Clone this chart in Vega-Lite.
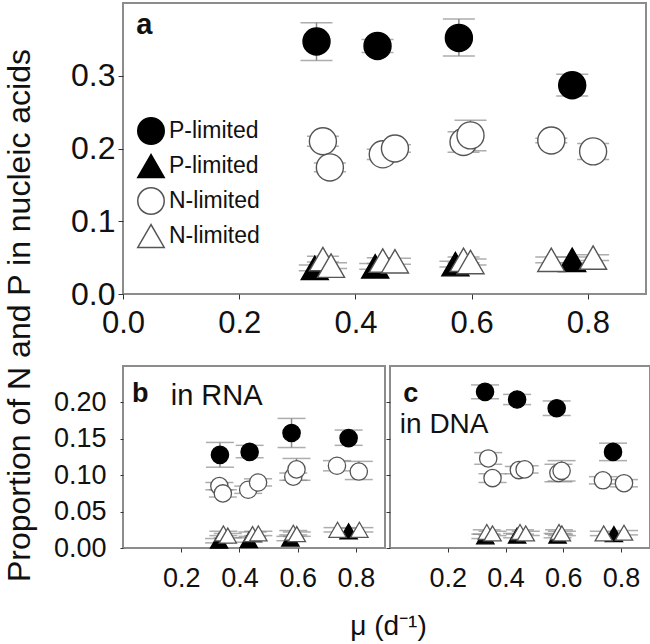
{
  "$schema": "https://vega.github.io/schema/vega-lite/v6.json",
  "padding": {"left": 1, "top": 2, "right": 3, "bottom": 2},
  "config": {
    "font": "Liberation Sans",
    "view": {"stroke": "#8c8c8c", "strokeWidth": 2},
    "axis": {"grid": false, "domain": false, "tickColor": "#333", "labelColor": "#111", "labelFont": "Liberation Sans", "titleFont": "Liberation Sans", "titleColor": "#111", "labelFlush": false, "labelOverlap": false}
  },
  "datasets": {
    "a": [
      {"s": "P-limited N", "mu": 0.333, "v": 0.347, "lo": 0.321, "hi": 0.373},
      {"s": "P-limited N", "mu": 0.438, "v": 0.341, "lo": 0.332, "hi": 0.350},
      {"s": "P-limited N", "mu": 0.578, "v": 0.352, "lo": 0.327, "hi": 0.378},
      {"s": "P-limited N", "mu": 0.773, "v": 0.287, "lo": 0.272, "hi": 0.302},
      {"s": "N-limited N", "mu": 0.344, "v": 0.210, "lo": 0.203, "hi": 0.217},
      {"s": "N-limited N", "mu": 0.356, "v": 0.174, "lo": 0.168, "hi": 0.180},
      {"s": "N-limited N", "mu": 0.447, "v": 0.192, "lo": 0.185, "hi": 0.199},
      {"s": "N-limited N", "mu": 0.468, "v": 0.200, "lo": 0.195, "hi": 0.205},
      {"s": "N-limited N", "mu": 0.586, "v": 0.209, "lo": 0.195, "hi": 0.223},
      {"s": "N-limited N", "mu": 0.598, "v": 0.218, "lo": 0.197, "hi": 0.239},
      {"s": "N-limited N", "mu": 0.737, "v": 0.211, "lo": 0.208, "hi": 0.214},
      {"s": "N-limited N", "mu": 0.809, "v": 0.196, "lo": 0.185, "hi": 0.207},
      {"s": "P-limited P", "mu": 0.330, "v": 0.036, "lo": 0.032, "hi": 0.040},
      {"s": "P-limited P", "mu": 0.434, "v": 0.038, "lo": 0.034, "hi": 0.042},
      {"s": "P-limited P", "mu": 0.572, "v": 0.041, "lo": 0.037, "hi": 0.045},
      {"s": "P-limited P", "mu": 0.773, "v": 0.047, "lo": 0.043, "hi": 0.051},
      {"s": "N-limited P", "mu": 0.344, "v": 0.048, "lo": 0.044, "hi": 0.052},
      {"s": "N-limited P", "mu": 0.358, "v": 0.039, "lo": 0.035, "hi": 0.043},
      {"s": "N-limited P", "mu": 0.447, "v": 0.046, "lo": 0.042, "hi": 0.050},
      {"s": "N-limited P", "mu": 0.468, "v": 0.045, "lo": 0.041, "hi": 0.049},
      {"s": "N-limited P", "mu": 0.586, "v": 0.047, "lo": 0.043, "hi": 0.051},
      {"s": "N-limited P", "mu": 0.598, "v": 0.044, "lo": 0.040, "hi": 0.048},
      {"s": "N-limited P", "mu": 0.737, "v": 0.047, "lo": 0.043, "hi": 0.051},
      {"s": "N-limited P", "mu": 0.809, "v": 0.050, "lo": 0.046, "hi": 0.054}
    ],
    "b": [
      {"s": "P-limited N", "mu": 0.333, "v": 0.128, "lo": 0.111, "hi": 0.145},
      {"s": "P-limited N", "mu": 0.435, "v": 0.132, "lo": 0.124, "hi": 0.141},
      {"s": "P-limited N", "mu": 0.579, "v": 0.158, "lo": 0.138, "hi": 0.178},
      {"s": "P-limited N", "mu": 0.775, "v": 0.151, "lo": 0.141, "hi": 0.162},
      {"s": "N-limited N", "mu": 0.331, "v": 0.085, "lo": 0.080, "hi": 0.090},
      {"s": "N-limited N", "mu": 0.343, "v": 0.075, "lo": 0.070, "hi": 0.080},
      {"s": "N-limited N", "mu": 0.430, "v": 0.080, "lo": 0.075, "hi": 0.085},
      {"s": "N-limited N", "mu": 0.464, "v": 0.090, "lo": 0.085, "hi": 0.095},
      {"s": "N-limited N", "mu": 0.585, "v": 0.098, "lo": 0.093, "hi": 0.103},
      {"s": "N-limited N", "mu": 0.596, "v": 0.108, "lo": 0.093, "hi": 0.123},
      {"s": "N-limited N", "mu": 0.735, "v": 0.113, "lo": 0.106, "hi": 0.120},
      {"s": "N-limited N", "mu": 0.810, "v": 0.105, "lo": 0.094, "hi": 0.119},
      {"s": "P-limited P", "mu": 0.330, "v": 0.010, "lo": 0.007, "hi": 0.013},
      {"s": "P-limited P", "mu": 0.432, "v": 0.011, "lo": 0.008, "hi": 0.014},
      {"s": "P-limited P", "mu": 0.575, "v": 0.013, "lo": 0.010, "hi": 0.016},
      {"s": "P-limited P", "mu": 0.775, "v": 0.023, "lo": 0.019, "hi": 0.027},
      {"s": "N-limited P", "mu": 0.345, "v": 0.020, "lo": 0.017, "hi": 0.023},
      {"s": "N-limited P", "mu": 0.360, "v": 0.017, "lo": 0.014, "hi": 0.020},
      {"s": "N-limited P", "mu": 0.445, "v": 0.019, "lo": 0.016, "hi": 0.022},
      {"s": "N-limited P", "mu": 0.465, "v": 0.020, "lo": 0.017, "hi": 0.023},
      {"s": "N-limited P", "mu": 0.585, "v": 0.021, "lo": 0.018, "hi": 0.024},
      {"s": "N-limited P", "mu": 0.597, "v": 0.019, "lo": 0.016, "hi": 0.022},
      {"s": "N-limited P", "mu": 0.737, "v": 0.025, "lo": 0.022, "hi": 0.028},
      {"s": "N-limited P", "mu": 0.812, "v": 0.025, "lo": 0.022, "hi": 0.028}
    ],
    "c": [
      {"s": "P-limited N", "mu": 0.329, "v": 0.2145, "lo": 0.205, "hi": 0.224},
      {"s": "P-limited N", "mu": 0.440, "v": 0.204, "lo": 0.197, "hi": 0.211},
      {"s": "P-limited N", "mu": 0.577, "v": 0.192, "lo": 0.182, "hi": 0.202},
      {"s": "P-limited N", "mu": 0.772, "v": 0.132, "lo": 0.120, "hi": 0.144},
      {"s": "N-limited N", "mu": 0.340, "v": 0.123, "lo": 0.115, "hi": 0.131},
      {"s": "N-limited N", "mu": 0.355, "v": 0.096, "lo": 0.090, "hi": 0.102},
      {"s": "N-limited N", "mu": 0.446, "v": 0.107, "lo": 0.102, "hi": 0.112},
      {"s": "N-limited N", "mu": 0.466, "v": 0.108, "lo": 0.103, "hi": 0.113},
      {"s": "N-limited N", "mu": 0.583, "v": 0.103, "lo": 0.091, "hi": 0.115},
      {"s": "N-limited N", "mu": 0.594, "v": 0.106, "lo": 0.092, "hi": 0.120},
      {"s": "N-limited N", "mu": 0.737, "v": 0.093, "lo": 0.088, "hi": 0.098},
      {"s": "N-limited N", "mu": 0.810, "v": 0.089, "lo": 0.084, "hi": 0.094},
      {"s": "P-limited P", "mu": 0.330, "v": 0.016, "lo": 0.013, "hi": 0.019},
      {"s": "P-limited P", "mu": 0.440, "v": 0.017, "lo": 0.014, "hi": 0.020},
      {"s": "P-limited P", "mu": 0.580, "v": 0.017, "lo": 0.014, "hi": 0.020},
      {"s": "P-limited P", "mu": 0.775, "v": 0.019, "lo": 0.016, "hi": 0.022},
      {"s": "N-limited P", "mu": 0.335, "v": 0.022, "lo": 0.019, "hi": 0.025},
      {"s": "N-limited P", "mu": 0.355, "v": 0.020, "lo": 0.017, "hi": 0.023},
      {"s": "N-limited P", "mu": 0.450, "v": 0.022, "lo": 0.019, "hi": 0.025},
      {"s": "N-limited P", "mu": 0.470, "v": 0.020, "lo": 0.017, "hi": 0.023},
      {"s": "N-limited P", "mu": 0.585, "v": 0.022, "lo": 0.019, "hi": 0.025},
      {"s": "N-limited P", "mu": 0.595, "v": 0.020, "lo": 0.017, "hi": 0.023},
      {"s": "N-limited P", "mu": 0.740, "v": 0.020, "lo": 0.017, "hi": 0.023},
      {"s": "N-limited P", "mu": 0.810, "v": 0.021, "lo": 0.018, "hi": 0.024}
    ]
  },
  "bounds": "flush",
  "spacing": 72,
  "resolve": {
    "scale": {"shape": "independent", "fill": "independent", "stroke": "independent"},
    "legend": {"shape": "independent", "fill": "independent", "stroke": "independent"}
  },
  "vconcat": [
    {
      "width": 523,
      "height": 291,
      "data": {"name": "a"},
      "layer": [
        {
          "mark": {"type": "errorbar", "ticks": {"size": 32, "color": "#8a8a8a", "thickness": 1.5}, "rule": {"color": "#8a8a8a", "strokeWidth": 1.5}},
          "encoding": {
            "x": {"field": "mu", "type": "quantitative", "scale": {"domain": [0, 0.9], "nice": false, "zero": false},
                  "axis": {"values": [0, 0.2, 0.4, 0.6, 0.8], "format": ".1f", "title": null, "labelFontSize": 31, "tickSize": 5, "labelPadding": 9}},
            "y": {"field": "lo", "type": "quantitative", "scale": {"domain": [0, 0.4], "nice": false},
                  "axis": {"values": [0, 0.1, 0.2, 0.3], "format": ".1f", "title": "Proportion of N and P in nucleic acids", "titleFontSize": 32, "titleFontWeight": "normal", "titleX": -87, "titleY": 312, "titleAngle": 270, "titleAlign": "center", "titleBaseline": "bottom", "labelFontSize": 32, "tickSize": 5, "labelPadding": 3}},
            "y2": {"field": "hi"}
          }
        },
        {
          "mark": {"type": "point", "filled": false, "size": 730, "strokeWidth": 1.4, "opacity": 1, "fillOpacity": 1},
          "encoding": {
            "x": {"field": "mu", "type": "quantitative", "scale": {"domain": [0, 0.9], "nice": false, "zero": false},
                  "axis": {"values": [0, 0.2, 0.4, 0.6, 0.8], "format": ".1f", "title": null, "labelFontSize": 31, "tickSize": 5, "labelPadding": 9}},
            "y": {"field": "v", "type": "quantitative", "scale": {"domain": [0, 0.4], "nice": false},
                  "axis": {"values": [0, 0.1, 0.2, 0.3], "format": ".1f", "title": "Proportion of N and P in nucleic acids", "titleFontSize": 32, "titleFontWeight": "normal", "titleX": -87, "titleY": 312, "titleAngle": 270, "titleAlign": "center", "titleBaseline": "bottom", "labelFontSize": 32, "tickSize": 5, "labelPadding": 3}},
            "shape": {"field": "s", "type": "nominal", "scale": {"domain": ["P-limited N", "P-limited P", "N-limited N", "N-limited P"], "range": ["circle", "triangle-up", "circle", "triangle-up"]},
                      "legend": {"title": null, "orient": "none", "legendX": 14, "legendY": 114, "labelExpr": "slice(datum.label, 0, 9)", "symbolSize": 700, "labelFontSize": 23, "labelFont": "Liberation Sans", "rowPadding": 3, "labelOffset": 4, "padding": 0, "symbolStrokeWidth": 1.5, "labelColor": "#111"}},
            "fill": {"field": "s", "type": "nominal", "scale": {"domain": ["P-limited N", "P-limited P", "N-limited N", "N-limited P"], "range": ["#000000", "#000000", "#ffffff", "#ffffff"]},
                      "legend": {"title": null, "orient": "none", "legendX": 14, "legendY": 114, "labelExpr": "slice(datum.label, 0, 9)", "symbolSize": 700, "labelFontSize": 23, "labelFont": "Liberation Sans", "rowPadding": 3, "labelOffset": 4, "padding": 0, "symbolStrokeWidth": 1.5, "labelColor": "#111"}},
            "stroke": {"field": "s", "type": "nominal", "scale": {"domain": ["P-limited N", "P-limited P", "N-limited N", "N-limited P"], "range": ["#000000", "#000000", "#555555", "#555555"]},
                      "legend": {"title": null, "orient": "none", "legendX": 14, "legendY": 114, "labelExpr": "slice(datum.label, 0, 9)", "symbolSize": 700, "labelFontSize": 23, "labelFont": "Liberation Sans", "rowPadding": 3, "labelOffset": 4, "padding": 0, "symbolStrokeWidth": 1.5, "labelColor": "#111"}}
          }
        },
        {
          "data": {"values": [{"t": "a", "mu": 0.023, "v": 0.357}]},
          "mark": {"type": "text", "fontSize": 29, "fontWeight": "bold", "align": "left", "baseline": "alphabetic", "color": "#111"},
          "encoding": {
            "x": {"field": "mu", "type": "quantitative", "scale": {"domain": [0, 0.9], "nice": false, "zero": false}},
            "y": {"field": "v", "type": "quantitative", "scale": {"domain": [0, 0.4], "nice": false}},
            "text": {"field": "t"}
          }
        }
      ]
    },
    {
      "bounds": "flush",
      "spacing": 5,
      "hconcat": [
        {
          "width": 262,
          "height": 182,
          "data": {"name": "b"},
          "layer": [
            {
              "mark": {"type": "errorbar", "ticks": {"size": 28, "color": "#8a8a8a", "thickness": 1.5}, "rule": {"color": "#8a8a8a", "strokeWidth": 1.5}},
              "encoding": {
                "x": {"field": "mu", "type": "quantitative", "scale": {"domain": [0, 0.9], "nice": false, "zero": false},
                      "axis": {"values": [0.2, 0.4, 0.6, 0.8], "format": ".1f", "title": "μ (d⁻¹)", "titleFontSize": 28, "titleFontWeight": "normal", "titleX": 265, "titleY": 86, "titleAlign": "center", "titleBaseline": "alphabetic", "labelFontSize": 27, "tickSize": 4, "labelPadding": 13}},
                "y": {"field": "lo", "type": "quantitative", "scale": {"domain": [0, 0.25], "nice": false},
                      "axis": {"values": [0, 0.05, 0.1, 0.15, 0.2], "format": ".2f", "title": null, "labelFontSize": 27, "tickSize": 3, "labelPadding": 14}},
                "y2": {"field": "hi"}
              }
            },
            {
              "mark": {"type": "point", "filled": false, "size": 300, "strokeWidth": 1.3, "opacity": 1, "fillOpacity": 1},
              "encoding": {
                "x": {"field": "mu", "type": "quantitative", "scale": {"domain": [0, 0.9], "nice": false, "zero": false},
                      "axis": {"values": [0.2, 0.4, 0.6, 0.8], "format": ".1f", "title": "μ (d⁻¹)", "titleFontSize": 28, "titleFontWeight": "normal", "titleX": 265, "titleY": 86, "titleAlign": "center", "titleBaseline": "alphabetic", "labelFontSize": 27, "tickSize": 4, "labelPadding": 13}},
                "y": {"field": "v", "type": "quantitative", "scale": {"domain": [0, 0.25], "nice": false},
                      "axis": {"values": [0, 0.05, 0.1, 0.15, 0.2], "format": ".2f", "title": null, "labelFontSize": 27, "tickSize": 3, "labelPadding": 14}},
                "shape": {"field": "s", "type": "nominal", "scale": {"domain": ["P-limited N", "P-limited P", "N-limited N", "N-limited P"], "range": ["circle", "triangle-up", "circle", "triangle-up"]}, "legend": null},
                "fill": {"field": "s", "type": "nominal", "scale": {"domain": ["P-limited N", "P-limited P", "N-limited N", "N-limited P"], "range": ["#000000", "#000000", "#ffffff", "#ffffff"]}, "legend": null},
                "stroke": {"field": "s", "type": "nominal", "scale": {"domain": ["P-limited N", "P-limited P", "N-limited N", "N-limited P"], "range": ["#000000", "#000000", "#555555", "#555555"]}, "legend": null}
              }
            },
            {
              "data": {"values": [{"t": "b", "mu": 0.031, "v": 0.201}]},
              "mark": {"type": "text", "fontSize": 27, "fontWeight": "bold", "align": "left", "baseline": "alphabetic", "color": "#111"},
              "encoding": {
                "x": {"field": "mu", "type": "quantitative", "scale": {"domain": [0, 0.9], "nice": false, "zero": false}},
                "y": {"field": "v", "type": "quantitative", "scale": {"domain": [0, 0.25], "nice": false}},
                "text": {"field": "t"}
              }
            },
            {
              "data": {"values": [{"t": "in RNA", "mu": 0.164, "v": 0.197}]},
              "mark": {"type": "text", "fontSize": 29, "align": "left", "baseline": "alphabetic", "color": "#111"},
              "encoding": {
                "x": {"field": "mu", "type": "quantitative", "scale": {"domain": [0, 0.9], "nice": false, "zero": false}},
                "y": {"field": "v", "type": "quantitative", "scale": {"domain": [0, 0.25], "nice": false}},
                "text": {"field": "t"}
              }
            }
          ]
        },
        {
          "width": 260,
          "height": 182,
          "data": {"name": "c"},
          "layer": [
            {
              "mark": {"type": "errorbar", "ticks": {"size": 28, "color": "#8a8a8a", "thickness": 1.5}, "rule": {"color": "#8a8a8a", "strokeWidth": 1.5}},
              "encoding": {
                "x": {"field": "mu", "type": "quantitative", "scale": {"domain": [0, 0.9], "nice": false, "zero": false},
                      "axis": {"values": [0.2, 0.4, 0.6, 0.8], "format": ".1f", "title": null, "labelFontSize": 27, "tickSize": 4, "labelPadding": 13}},
                "y": {"field": "lo", "type": "quantitative", "scale": {"domain": [0, 0.25], "nice": false},
                      "axis": {"values": [0, 0.05, 0.1, 0.15, 0.2], "labels": false, "title": null, "tickSize": 4}},
                "y2": {"field": "hi"}
              }
            },
            {
              "mark": {"type": "point", "filled": false, "size": 300, "strokeWidth": 1.3, "opacity": 1, "fillOpacity": 1},
              "encoding": {
                "x": {"field": "mu", "type": "quantitative", "scale": {"domain": [0, 0.9], "nice": false, "zero": false},
                      "axis": {"values": [0.2, 0.4, 0.6, 0.8], "format": ".1f", "title": null, "labelFontSize": 27, "tickSize": 4, "labelPadding": 13}},
                "y": {"field": "v", "type": "quantitative", "scale": {"domain": [0, 0.25], "nice": false},
                      "axis": {"values": [0, 0.05, 0.1, 0.15, 0.2], "labels": false, "title": null, "tickSize": 4}},
                "shape": {"field": "s", "type": "nominal", "scale": {"domain": ["P-limited N", "P-limited P", "N-limited N", "N-limited P"], "range": ["circle", "triangle-up", "circle", "triangle-up"]}, "legend": null},
                "fill": {"field": "s", "type": "nominal", "scale": {"domain": ["P-limited N", "P-limited P", "N-limited N", "N-limited P"], "range": ["#000000", "#000000", "#ffffff", "#ffffff"]}, "legend": null},
                "stroke": {"field": "s", "type": "nominal", "scale": {"domain": ["P-limited N", "P-limited P", "N-limited N", "N-limited P"], "range": ["#000000", "#000000", "#555555", "#555555"]}, "legend": null}
              }
            },
            {
              "data": {"values": [{"t": "c", "mu": 0.046, "v": 0.201}]},
              "mark": {"type": "text", "fontSize": 27, "fontWeight": "bold", "align": "left", "baseline": "alphabetic", "color": "#111"},
              "encoding": {
                "x": {"field": "mu", "type": "quantitative", "scale": {"domain": [0, 0.9], "nice": false, "zero": false}},
                "y": {"field": "v", "type": "quantitative", "scale": {"domain": [0, 0.25], "nice": false}},
                "text": {"field": "t"}
              }
            },
            {
              "data": {"values": [{"t": "in DNA", "mu": 0.034, "v": 0.1575}]},
              "mark": {"type": "text", "fontSize": 28, "align": "left", "baseline": "alphabetic", "color": "#111"},
              "encoding": {
                "x": {"field": "mu", "type": "quantitative", "scale": {"domain": [0, 0.9], "nice": false, "zero": false}},
                "y": {"field": "v", "type": "quantitative", "scale": {"domain": [0, 0.25], "nice": false}},
                "text": {"field": "t"}
              }
            }
          ]
        }
      ]
    }
  ]
}
